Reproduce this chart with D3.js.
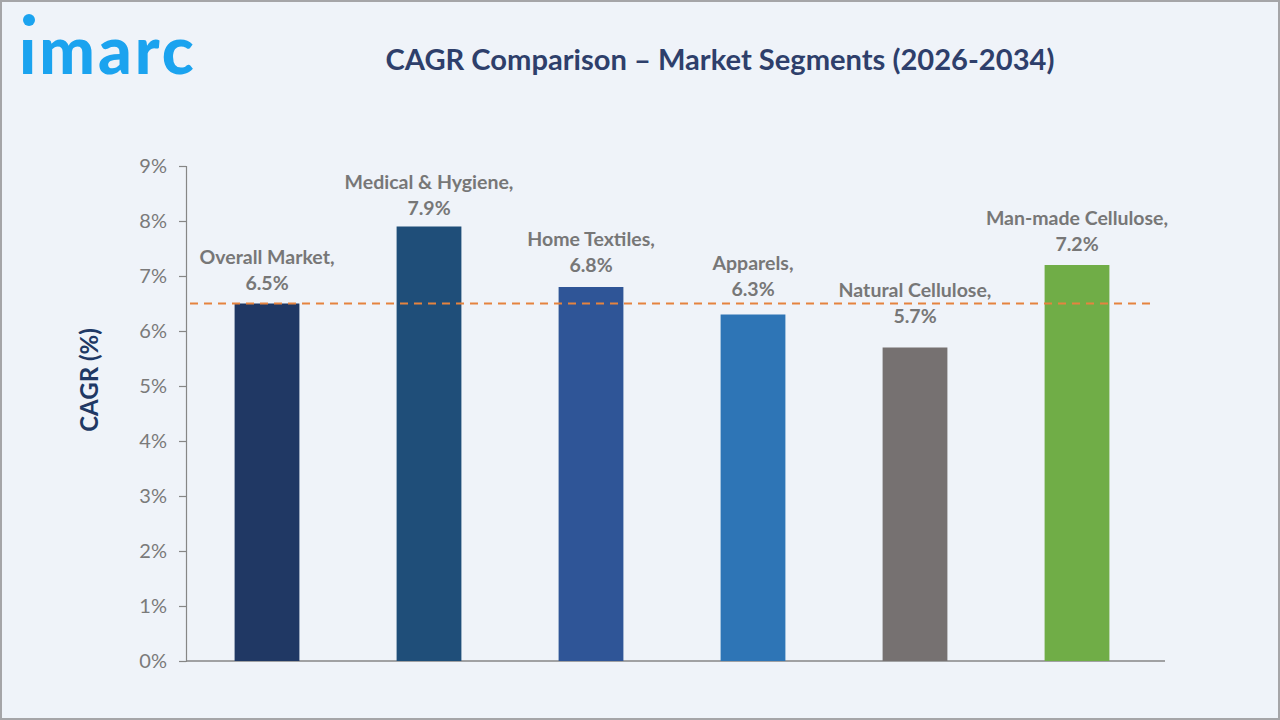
<!DOCTYPE html>
<html>
<head>
<meta charset="utf-8">
<script src="https://cdn.jsdelivr.net/npm/d3@7"></script>
<style>
  html, body { margin: 0; padding: 0; background: #eff3f9; }
  svg { display: block; }
</style>
</head>
<body>
<div id="chart"></div>
<script>
'use strict';

// chart data
const segments = ['Overall Market', 'Medical & Hygiene', 'Home Textiles', 'Apparels', 'Natural Cellulose', 'Man-made Cellulose'];
const cagr = [6.5, 7.9, 6.8, 6.3, 5.7, 7.2];
const barColors = ['#203864', '#1f4e79', '#2f5597', '#2e75b6', '#767171', '#70ad47'];
const yTicks = [0, 1, 2, 3, 4, 5, 6, 7, 8, 9];
const referenceValue = 6.5; // overall market line

// labels were nudged by hand in the original; gap (px) between bar top and value baseline
const labelGap = [13.5, 11.5, 15, 18.5, 24.5, 14];

const W = 1280, H = 720;
const margin = { left: 186, right: 115, top: 166, bottom: 59 };
const FONT = 'Lato, "Open Sans", sans-serif';

const svg = d3.select('#chart').append('svg')
  .attr('width', W).attr('height', H)
  .attr('viewBox', `0 0 ${W} ${H}`);

// background + frame
svg.append('rect').attr('x', 1).attr('y', 1).attr('width', W - 2).attr('height', H - 2)
  .attr('fill', '#eff3f9').attr('stroke', '#a5a5a8').attr('stroke-width', 2);

// logo
svg.append('text')
  .attr('x', 19).attr('y', 74)
  .attr('font-family', FONT).attr('font-weight', 900)
  .attr('font-size', 66).attr('fill', '#1ba3ef')
  .attr('letter-spacing', 3)
  .text('ımarc');
svg.append('circle').attr('cx', 29).attr('cy', 20).attr('r', 6).attr('fill', '#1ba3ef');

// title
const title = svg.append('text')
  .attr('x', 720).attr('y', 70)
  .attr('text-anchor', 'middle')
  .attr('font-family', FONT).attr('font-weight', 700)
  .attr('font-size', 28).attr('fill', '#2e3f6b')
  .text('CAGR Comparison – Market Segments (2026-2034)');
// fit title to the reference width (~669px)
const tw = title.node().getComputedTextLength();
if (tw > 0) title.attr('font-size', 28 * 669 / tw);

const x = d3.scaleBand()
  .domain(segments)
  .range([margin.left, 1158])
  .paddingInner(0.6)
  .paddingOuter(0.3);

const y = d3.scaleLinear()
  .domain([0, 9])
  .range([H - margin.bottom, margin.top]);

// y axis
const yAxis = svg.append('g')
  .attr('transform', `translate(${margin.left},0)`)
  .call(d3.axisLeft(y).tickValues(yTicks).tickFormat(d => d + '%').tickSize(7).tickPadding(12));
yAxis.select('.domain').attr('stroke', '#868686').attr('stroke-width', 1.2);
yAxis.selectAll('.tick line').attr('stroke', '#868686').attr('stroke-width', 1.2);
yAxis.selectAll('.tick text')
  .attr('font-family', FONT).attr('font-size', 20).attr('font-weight', 400)
  .attr('fill', '#7a7a7a');

// x baseline
svg.append('line')
  .attr('x1', margin.left).attr('x2', W - margin.right)
  .attr('y1', y(0)).attr('y2', y(0))
  .attr('stroke', '#868686').attr('stroke-width', 1.5);

// y axis title
svg.append('text')
  .attr('transform', `translate(98,380) rotate(-90)`)
  .attr('text-anchor', 'middle')
  .attr('font-family', FONT).attr('font-weight', 700)
  .attr('font-size', 24).attr('fill', '#203864')
  .text('CAGR (%)');

// bars
svg.append('g').selectAll('rect')
  .data(segments)
  .join('rect')
  .attr('x', d => x(d))
  .attr('y', (d, i) => y(cagr[i]))
  .attr('width', x.bandwidth())
  .attr('height', (d, i) => y(0) - y(cagr[i]))
  .attr('fill', (d, i) => barColors[i]);

// reference dashed line
svg.append('line')
  .attr('x1', margin.left + 4).attr('x2', W - margin.right - 10)
  .attr('y1', y(referenceValue)).attr('y2', y(referenceValue))
  .attr('stroke', '#e5833f').attr('stroke-width', 2)
  .attr('stroke-dasharray', '8,6');

// labels
const labels = svg.append('g')
  .attr('font-family', FONT).attr('font-weight', 700)
  .attr('font-size', 19.5).attr('fill', '#777777')
  .attr('text-anchor', 'middle');

segments.forEach((s, i) => {
  const cx = x(s) + x.bandwidth() / 2;
  const base = y(cagr[i]) - labelGap[i];
  labels.append('text').attr('x', cx).attr('y', base - 26).text(s + ',');
  labels.append('text').attr('x', cx).attr('y', base).text(cagr[i].toFixed(1) + '%');
});
</script>
</body>
</html>
